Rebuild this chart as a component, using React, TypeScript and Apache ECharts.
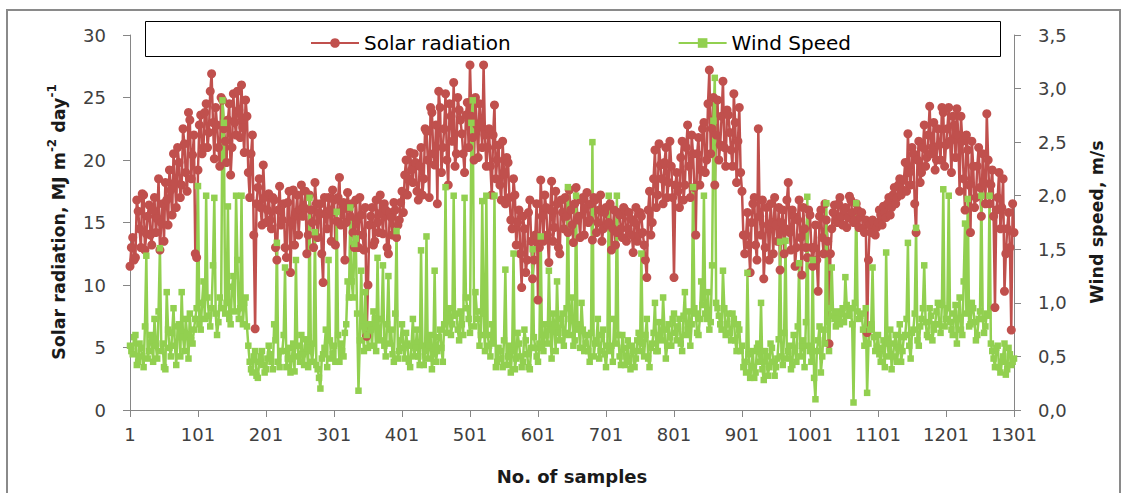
import React, { useEffect, useRef } from 'react';
import * as echarts from 'echarts';

// sample numbers on the x axis (1..1301)
const SAMPLE_COUNT = 1301;
const X_LABEL_EVERY = 100;

// Solar radiation, MJ m-2 day-1 — samples 1, 5, 9, ... 1301
const SOLAR_A = [
  11.5,13.8,12.2,15.9,13.0,17.2,14.1,16.4,
  13.2,17.0,15.3,12.8,16.5,18.2,14.8,17.6,
  20.5,16.2,19.8,18.0,21.3,17.5,23.2,20.4,
  12.5,19.2,
  23.6,21.0,24.5,22.2,26.9,20.1,22.8,19.5,
  24.8,21.5,23.2,18.8,25.3,22.0,24.0,26.0,20.6,23.5,
  17.0,22.0,6.5,17.8,16.2,19.6,15.0,
  17.3,14.5,16.8,12.0,17.9,15.2,13.0,16.6,11.0,17.6,15.8,14.0,18.0,16.2,12.5,17.2,15.0,18.2,13.8,16.5,10.2,15.6,17.0,13.5,16.8,15.1,18.6,16.0,12.0,17.4,
  15.5,14.2,16.8,13.0,15.6,12.8,5.9,14.8,16.2,13.5,15.0,17.2,14.1,16.0,12.5,15.4,16.6,13.8,15.2,17.5,18.8,17.2,20.6,18.2,19.8,
  16.8,21.0,18.5,22.3,17.0,23.8,19.6,16.5,24.2,21.0,25.3,18.0,23.5,26.2,20.5,24.0,22.1,19.0,24.6,27.6,21.8,25.0,20.2,23.0,27.6,
  19.5,22.5,17.2,24.4,20.0,18.0,21.5,16.5,19.8,15.2,18.5,13.2,16.0,9.8,14.5,12.0,16.8,10.5,14.0,8.8,
  18.4,13.5,16.2,11.8,18.3,14.6,16.5,12.5,15.8,17.0,14.2,16.0,13.4,17.8,15.5,16.8,14.0,17.4,15.2,13.6,16.8,15.0,17.2,14.5,16.2,
  15.0,12.8,16.0,14.2,15.6,13.8,16.0,14.5,15.3,12.6,16.2,14.0,15.5,13.2,10.6,17.5,15.0,20.8,17.2,19.6,16.5,21.0,18.2,19.5,10.6,
  19.0,16.2,21.5,18.0,22.8,17.0,20.5,14.0,21.8,19.2,23.0,20.0,27.2,22.5,18.0,24.8,21.2,26.3,19.5,23.6,20.8,25.3,18.2,24.2,17.5,
  12.5,15.8,11.0,16.5,13.2,22.5,14.0,10.5,16.2,12.0,15.0,17.0,13.5,11.2,16.0,14.5,18.2,12.8,15.5,13.0,16.8,10.8,14.5,12.2,15.6,
  11.5,14.8,9.5,16.0,12.5,15.2,5.3,14.5,16.4,15.0,17.0,14.8,16.2,15.4,16.8,15.0,16.5,14.6,15.8,14.2,6.2,14.8,15.2,14.0,15.0,
  15.6,16.3,15.4,17.0,16.2,17.8,17.0,18.5,17.6,19.8,22.1,18.0,20.5,14.2,21.5,19.0,22.8,20.2,24.3,21.0,19.2,22.5,20.0,23.8,21.2,
  24.2,19.0,22.8,24.1,17.5,21.5,16.0,20.8,14.2,19.5,17.0,21.0,15.5,18.2,23.7,16.5,19.2,8.2,17.0,14.5,18.5,12.5,15.8,6.4,14.2
];

// Solar radiation — samples 3, 7, 11, ... 1299
const SOLAR_B = [
  13.0,12.0,16.8,14.5,17.3,12.8,15.5,14.0,
  16.0,14.2,18.5,15.0,13.5,16.8,19.2,15.6,
  18.2,21.0,17.0,22.5,19.0,23.8,18.5,22.0,
  12.2,22.8,
  20.5,23.8,21.0,25.5,23.0,24.2,21.0,25.0,
  22.5,19.8,24.5,21.0,23.0,25.5,21.8,22.6,24.8,19.0,
  20.5,14.0,16.5,18.5,14.8,17.0,16.0,
  15.2,17.0,13.0,16.0,14.8,16.5,12.2,17.5,15.0,13.2,17.2,16.0,15.5,17.5,14.0,16.0,13.0,16.5,15.8,12.5,17.0,14.5,16.0,17.6,13.2,17.0,14.8,16.6,15.0,16.2,
  16.5,13.0,15.2,17.0,14.0,16.2,10.0,15.5,13.2,16.8,14.2,15.8,16.5,13.0,15.8,14.0,16.0,14.8,16.6,15.8,20.0,18.5,19.2,20.5,17.5,
  19.5,17.2,22.5,20.0,24.2,20.5,22.8,25.5,19.0,22.5,20.0,24.5,21.5,19.5,25.0,23.2,20.5,23.6,21.0,23.5,20.0,22.8,24.5,21.0,22.0,
  21.0,19.5,22.0,18.5,21.2,16.8,19.0,20.2,17.0,14.5,17.2,15.0,12.5,15.5,11.0,15.8,13.5,12.0,16.5,13.0,
  15.5,17.2,14.0,16.0,13.5,17.5,13.0,16.8,14.5,15.5,17.6,14.8,16.5,15.2,13.8,17.0,16.2,15.0,16.5,17.0,14.2,16.0,13.5,15.8,14.8,
  16.5,14.5,13.2,15.8,14.5,16.2,13.5,15.8,14.0,15.0,13.5,15.8,14.2,12.0,16.0,14.0,18.5,16.2,21.3,18.5,19.8,17.0,21.5,17.0,18.0,
  17.5,20.2,16.8,21.0,19.5,22.0,17.8,20.5,18.0,22.5,19.0,24.5,20.5,25.0,22.0,20.0,23.5,21.0,24.0,22.2,19.5,23.0,21.5,19.0,14.0,
  14.0,13.2,15.0,17.0,12.0,15.5,16.8,13.0,14.8,16.5,12.5,14.8,16.2,15.0,12.5,16.8,14.2,16.0,11.5,15.2,13.8,16.2,13.0,16.0,13.0,
  13.0,12.0,15.5,13.8,16.5,13.5,12.5,15.8,15.2,16.5,15.5,16.0,14.6,17.1,15.8,15.2,16.0,15.5,14.5,15.2,12.0,14.2,15.0,14.6,16.0,
  14.8,15.8,16.5,15.6,17.2,16.5,18.0,17.2,18.4,17.5,19.0,21.0,16.5,20.0,18.2,21.0,19.5,22.0,20.5,23.0,20.0,21.2,24.2,19.5,22.5,
  21.5,23.5,20.2,22.0,23.5,18.5,22.0,18.0,21.5,16.2,19.5,17.8,20.5,16.5,20.0,18.0,15.5,16.0,19.0,16.2,9.5,14.5,13.0,16.5
];

// Wind speed, m/s — samples 1, 5, 9, ... 1301
const WIND_A = [
  0.60,0.52,0.70,0.45,0.58,0.40,1.44,0.55,
  0.65,0.85,0.48,1.51,0.62,0.38,0.75,0.50,
  0.95,0.42,0.80,1.10,0.55,0.70,0.90,0.62,
  0.85,2.09,
  0.75,1.20,2.00,0.88,0.95,1.98,0.70,1.05,
  2.89,0.90,1.90,0.80,1.25,2.00,0.85,2.00,1.00,0.78,
  0.45,0.35,0.55,0.30,0.50,0.42,0.38,
  0.60,0.45,0.80,1.56,0.40,0.55,1.33,0.48,0.35,0.62,1.40,0.50,0.70,0.42,0.58,1.98,0.45,1.66,0.38,0.20,0.52,0.75,1.40,0.48,0.60,1.85,0.45,0.55,0.72,1.20,
  1.89,1.05,1.60,0.18,1.30,0.55,0.70,0.80,0.60,0.85,1.42,0.65,1.35,0.50,1.25,0.75,0.45,1.67,0.55,0.80,0.48,0.62,0.40,0.85,0.58,
  0.50,1.49,0.42,1.62,0.60,0.38,1.30,0.55,0.75,0.45,2.08,0.85,0.70,2.00,0.90,0.65,0.80,1.98,0.95,0.72,2.89,1.10,0.85,0.70,0.90,
  2.00,0.60,0.80,2.00,0.45,0.55,0.40,1.31,0.50,0.35,1.46,0.48,0.62,0.40,0.75,0.52,0.38,1.50,0.58,0.45,
  1.62,0.55,0.70,1.30,0.48,0.80,1.20,0.65,0.90,0.72,2.08,0.85,0.60,2.00,0.75,1.00,0.55,0.70,0.45,2.50,0.62,0.85,0.55,0.75,0.40,
  2.00,0.60,0.85,2.00,0.50,0.70,0.42,0.65,0.38,0.55,0.48,0.72,1.46,0.50,0.85,0.40,0.62,1.00,0.55,0.70,1.05,0.48,0.80,0.60,0.90,
  0.65,0.85,0.55,1.10,0.75,0.60,2.08,0.90,0.70,1.20,2.00,0.85,0.75,1.35,3.10,0.95,0.80,1.30,0.70,0.90,0.65,0.85,0.55,0.75,0.60,
  0.45,1.28,0.30,0.55,0.35,0.62,1.00,0.28,0.50,0.40,0.58,0.32,0.48,1.57,0.42,1.58,0.55,0.38,0.70,0.45,1.37,0.60,0.40,1.99,0.55,
  1.40,0.10,0.65,0.35,0.75,1.93,0.55,1.33,0.85,0.92,0.80,0.95,1.24,0.88,0.95,0.07,1.93,0.85,0.90,0.60,0.16,0.75,1.33,0.55,0.70,
  0.45,0.65,1.47,0.50,0.38,0.62,0.45,0.80,0.55,0.70,1.56,0.48,0.75,1.70,0.60,0.85,1.35,0.70,0.95,0.65,0.80,1.00,0.72,2.06,0.85,
  2.00,0.75,0.90,0.62,1.05,0.70,1.74,1.97,0.80,0.95,0.65,0.85,2.00,0.72,0.90,2.00,0.55,0.40,0.60,0.35,0.50,0.33,0.58,0.42,0.48
];

// Wind speed — samples 3, 7, 11, ... 1299
const WIND_B = [
  0.55,0.68,0.42,0.62,0.50,0.78,0.48,0.70,
  0.45,0.60,0.92,0.55,0.40,1.10,0.58,0.72,
  0.60,0.78,0.50,0.68,0.85,0.48,0.65,0.75,
  0.95,0.80,
  1.00,0.85,1.05,0.78,1.35,0.90,0.82,0.95,
  2.68,1.00,0.85,1.15,0.92,1.40,0.95,0.80,1.05,0.60,
  0.38,0.50,0.32,0.45,0.55,0.35,0.48,
  0.52,0.38,0.65,0.45,0.55,0.70,0.40,0.58,0.48,0.36,0.60,0.45,0.52,0.66,0.40,0.55,0.62,0.42,0.30,0.48,0.58,0.40,0.65,0.52,0.45,0.70,0.62,0.50,0.80,1.05,
  1.20,1.55,0.90,0.65,0.78,1.10,0.58,0.75,0.92,0.55,0.70,0.85,0.60,0.80,0.62,0.52,0.90,0.48,0.65,0.58,0.72,0.45,0.60,0.50,0.75,
  0.42,0.60,0.55,0.48,0.70,0.52,0.45,0.68,0.58,0.80,0.72,0.95,0.80,0.88,0.75,0.92,0.70,1.05,0.85,2.68,0.78,0.92,0.60,1.95,0.55,
  0.70,0.50,0.62,0.40,0.58,0.48,0.65,0.42,0.60,0.55,0.38,0.72,0.50,0.45,0.65,0.40,0.58,0.68,0.50,0.62,
  0.58,0.80,0.62,0.75,0.90,0.55,0.72,0.85,0.60,0.95,0.70,1.05,0.65,0.80,0.58,0.75,0.62,0.55,0.72,0.50,0.65,0.48,0.70,0.52,0.60,
  0.55,0.45,0.62,0.70,0.42,0.58,0.50,0.45,0.60,0.40,0.65,0.55,0.62,0.70,0.48,0.58,0.72,0.55,0.82,0.65,0.75,0.60,0.68,0.85,0.72,
  0.78,0.62,0.88,0.70,0.92,0.80,0.95,0.72,0.85,0.98,0.90,1.10,0.82,2.70,1.00,0.88,0.75,0.95,0.80,0.72,0.90,0.65,0.80,0.55,0.40,
  0.35,0.52,0.40,0.30,0.58,0.45,0.38,0.55,0.32,0.62,0.45,0.40,0.66,0.50,0.72,0.48,0.60,0.42,0.55,0.78,0.50,0.65,0.82,0.60,0.45,
  0.30,0.55,0.78,0.50,0.62,0.82,0.95,0.88,0.78,0.85,0.90,0.82,0.98,0.90,0.80,1.00,0.92,0.88,0.75,0.95,0.62,0.80,0.68,0.58,0.52,
  0.58,0.40,0.62,0.75,0.50,0.70,0.58,0.45,0.68,0.85,0.60,0.72,0.90,0.65,0.78,0.95,0.82,0.68,0.88,0.75,0.92,0.80,0.98,0.78,0.95,
  0.82,0.70,0.98,0.85,0.75,1.20,0.90,0.78,1.00,0.82,0.70,0.92,0.85,0.78,0.88,0.62,0.48,0.58,0.40,0.45,0.62,0.38,0.52,0.45
];

const SERIES_NAMES = ['Solar radiation', 'Wind Speed'];
const LEFT_AXIS = { min: 0, max: 30, interval: 5 };
const RIGHT_AXIS = { min: 0, max: 3.5, interval: 0.5 };

const CATEGORIES = Array.from({ length: SAMPLE_COUNT }, (_, i) => String(i + 1));

// A holds samples 1,5,9,...; B holds samples 3,7,11,... — merge into [categoryIndex, value]
function mergeSamples(a: number[], b: number[]): [number, number][] {
  const out: [number, number][] = [];
  for (let i = 0; i < a.length; i++) {
    out.push([i * 4, a[i]]);
    if (i < b.length && b[i] !== undefined && i * 4 + 2 < SAMPLE_COUNT) out.push([i * 4 + 2, b[i]]);
  }
  return out;
}

const AXIS_GRAY = '#868686';
const LABEL_COLOR = '#404040';
const FONT = 'DejaVu Sans';
const RED = '#C0504D';
const GREEN = '#92D050';

export default function App() {
  const ref = useRef<HTMLDivElement>(null);
  useEffect(() => {
    if (!ref.current) return;
    const chart = echarts.init(ref.current, null, { renderer: 'svg' });
    const showEvery = (i: number) => i % X_LABEL_EVERY === 0;
    chart.setOption({
      animation: false,
      backgroundColor: '#ffffff',
      grid: { left: 130, right: 109, top: 35, bottom: 83, containLabel: false },
      legend: {
        data: SERIES_NAMES,
        left: 305,
        top: 28,
        itemWidth: 48,
        itemHeight: 12,
        itemGap: 167,
        textStyle: { fontFamily: FONT, fontSize: 20, color: '#000' },
      },
      xAxis: {
        type: 'category',
        data: CATEGORIES,
        boundaryGap: false,
        axisLine: { lineStyle: { color: AXIS_GRAY, width: 1 } },
        axisTick: { interval: showEvery, length: 7, lineStyle: { color: AXIS_GRAY } },
        axisLabel: { interval: showEvery, margin: 15, fontSize: 18, fontFamily: FONT, color: LABEL_COLOR },
        splitLine: { show: false },
      },
      yAxis: [
        {
          type: 'value',
          ...LEFT_AXIS,
          position: 'left',
          axisLine: { show: true, lineStyle: { color: AXIS_GRAY } },
          axisTick: { show: true, length: 7, lineStyle: { color: AXIS_GRAY } },
          axisLabel: { margin: 24, fontSize: 18, fontFamily: FONT, color: LABEL_COLOR },
          splitLine: { show: false },
        },
        {
          type: 'value',
          ...RIGHT_AXIS,
          position: 'right',
          axisLine: { show: true, lineStyle: { color: AXIS_GRAY } },
          axisTick: { show: true, length: 7, lineStyle: { color: AXIS_GRAY } },
          axisLabel: {
            margin: 24, fontSize: 18, fontFamily: FONT, color: LABEL_COLOR,
            formatter: (v: number) => v.toFixed(1).replace('.', ','),
          },
          splitLine: { show: false },
        },
      ],
      graphic: [
        {
          type: 'rect', z: -10, silent: true,
          shape: { x: 7, y: 10, width: 1113, height: 495 },
          style: { fill: 'none', stroke: '#8a8a8a', lineWidth: 2 },
        },
        {
          type: 'rect', z: -5, silent: true,
          shape: { x: 145.5, y: 21.5, width: 855, height: 35 },
          style: { fill: '#fff', stroke: '#000', lineWidth: 1 },
        },
        {
          type: 'text', x: 57, y: 222, rotation: Math.PI / 2,
          style: {
            text: '{a|Solar radiation, MJ m}{s|-2}{a| day}{s|-1}',
            align: 'center', verticalAlign: 'middle',
            rich: {
              a: { fontFamily: FONT, fontSize: 17.5, fontWeight: 'bold', fill: '#1a1a1a', lineHeight: 22, verticalAlign: 'bottom' },
              s: { fontFamily: FONT, fontSize: 12, fontWeight: 'bold', fill: '#1a1a1a', lineHeight: 13, verticalAlign: 'top' },
            },
          },
        },
        {
          type: 'text', x: 1097, y: 222, rotation: Math.PI / 2,
          style: {
            text: 'Wind speed, m/s', align: 'center', verticalAlign: 'middle',
            fontFamily: FONT, fontSize: 17.5, fontWeight: 'bold', fill: '#1a1a1a',
          },
        },
        {
          type: 'text', x: 572, y: 476,
          style: {
            text: 'No. of samples', align: 'center', verticalAlign: 'middle',
            fontFamily: FONT, fontSize: 18, fontWeight: 'bold', fill: '#1a1a1a',
          },
        },
      ],
      series: [
        {
          name: SERIES_NAMES[0],
          type: 'line',
          yAxisIndex: 0,
          data: mergeSamples(SOLAR_A, SOLAR_B),
          symbol: 'circle',
          symbolSize: 9,
          showAllSymbol: true,
          color: RED,
          itemStyle: { color: RED },
          lineStyle: { color: RED, width: 2.5 },
        },
        {
          name: SERIES_NAMES[1],
          type: 'line',
          yAxisIndex: 1,
          data: mergeSamples(WIND_A, WIND_B),
          symbol: 'rect',
          symbolSize: 6.5,
          showAllSymbol: true,
          color: GREEN,
          itemStyle: { color: GREEN },
          lineStyle: { color: GREEN, width: 2.5 },
        },
      ],
    });
    return () => chart.dispose();
  }, []);
  return (
    <div
      ref={ref}
      style={{ position: 'fixed', left: 0, top: 0, width: 1123, height: 493, background: '#fff' }}
    />
  );
}
